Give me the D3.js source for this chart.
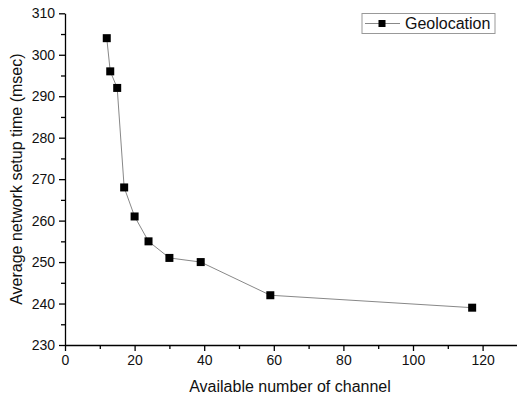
<!DOCTYPE html>
<html>
<head>
<meta charset="utf-8">
<script src="https://cdn.jsdelivr.net/npm/d3@7"></script>
<style>
  body { margin: 0; background: #fff; }
  text { font-family: "Liberation Sans", Arial, sans-serif; fill: #111; }
</style>
</head>
<body>
<div class="chart"></div>
<script>
const channels = [12, 13, 15, 17, 20, 24, 30, 39, 59, 117];
const setupTime = [304, 296, 292, 268, 261, 255, 251, 250, 242, 239];
const xTicks = [0, 20, 40, 60, 80, 100, 120];
const yTicks = [230, 240, 250, 260, 270, 280, 290, 300, 310];
const seriesName = "Geolocation";

const width = 517;
const height = 398;

const svg = d3
  .select(".chart")
  .append("svg")
  .attr("width", width)
  .attr("height", height);

const x = d3.scaleLinear().domain([0, 130]).range([65, 517.4]);
const y = d3.scaleLinear().domain([230, 310]).range([345, 13.3]);

// minor ticks
svg
  .append("g")
  .attr("transform", `translate(0,${y(230)})`)
  .call(d3.axisBottom(x).tickValues(d3.range(10, 131, 20)).tickSize(4).tickFormat(""))
  .call((g) => g.select(".domain").remove());
svg
  .append("g")
  .attr("transform", `translate(${x(0)},0)`)
  .call(d3.axisLeft(y).tickValues(d3.range(235, 310, 10)).tickSize(4).tickFormat(""))
  .call((g) => g.select(".domain").remove());

const xAxis = svg
  .append("g")
  .attr("transform", `translate(0,${y(230)})`)
  .call(d3.axisBottom(x).tickValues(xTicks).tickSize(6).tickSizeOuter(0).tickPadding(4));
xAxis.selectAll("text").attr("font-size", 14);

const yAxis = svg
  .append("g")
  .attr("transform", `translate(${x(0)},0)`)
  .call(d3.axisLeft(y).tickValues(yTicks).tickSize(6).tickSizeOuter(0).tickPadding(4));
yAxis.selectAll("text").attr("font-size", 14);

svg.selectAll(".domain, .tick line").attr("stroke", "#000").attr("stroke-width", 1.3);

svg
  .append("text")
  .attr("x", 290)
  .attr("y", 392)
  .attr("text-anchor", "middle")
  .attr("font-size", 16)
  .text("Available number of channel");

svg
  .append("text")
  .attr("transform", `translate(22,${(y(230) + y(310)) / 2}) rotate(-90)`)
  .attr("text-anchor", "middle")
  .attr("font-size", 16)
  .text("Average network setup time (msec)");

const points = channels.map((c, i) => [c, setupTime[i]]);

svg
  .append("path")
  .datum(points)
  .attr("fill", "none")
  .attr("stroke", "#888")
  .attr("stroke-width", 1)
  .attr("d", d3.line().x((d) => x(d[0])).y((d) => y(d[1])));

svg
  .selectAll(".pt")
  .data(points)
  .enter()
  .append("rect")
  .attr("class", "pt")
  .attr("x", (d) => x(d[0]) - 4)
  .attr("y", (d) => y(d[1]) - 4)
  .attr("width", 8)
  .attr("height", 8)
  .attr("fill", "#000");

// legend
const legend = svg.append("g").attr("transform", "translate(362,13.5)");
legend
  .append("rect")
  .attr("width", 133)
  .attr("height", 20)
  .attr("fill", "#fff")
  .attr("stroke", "#999");
legend
  .append("line")
  .attr("x1", 3)
  .attr("x2", 38)
  .attr("y1", 10)
  .attr("y2", 10)
  .attr("stroke", "#888");
legend
  .append("rect")
  .attr("x", 16.5)
  .attr("y", 6.5)
  .attr("width", 7)
  .attr("height", 7)
  .attr("fill", "#000");
legend
  .append("text")
  .attr("x", 43)
  .attr("y", 15.5)
  .attr("font-size", 16)
  .text(seriesName);
</script>
</body>
</html>
